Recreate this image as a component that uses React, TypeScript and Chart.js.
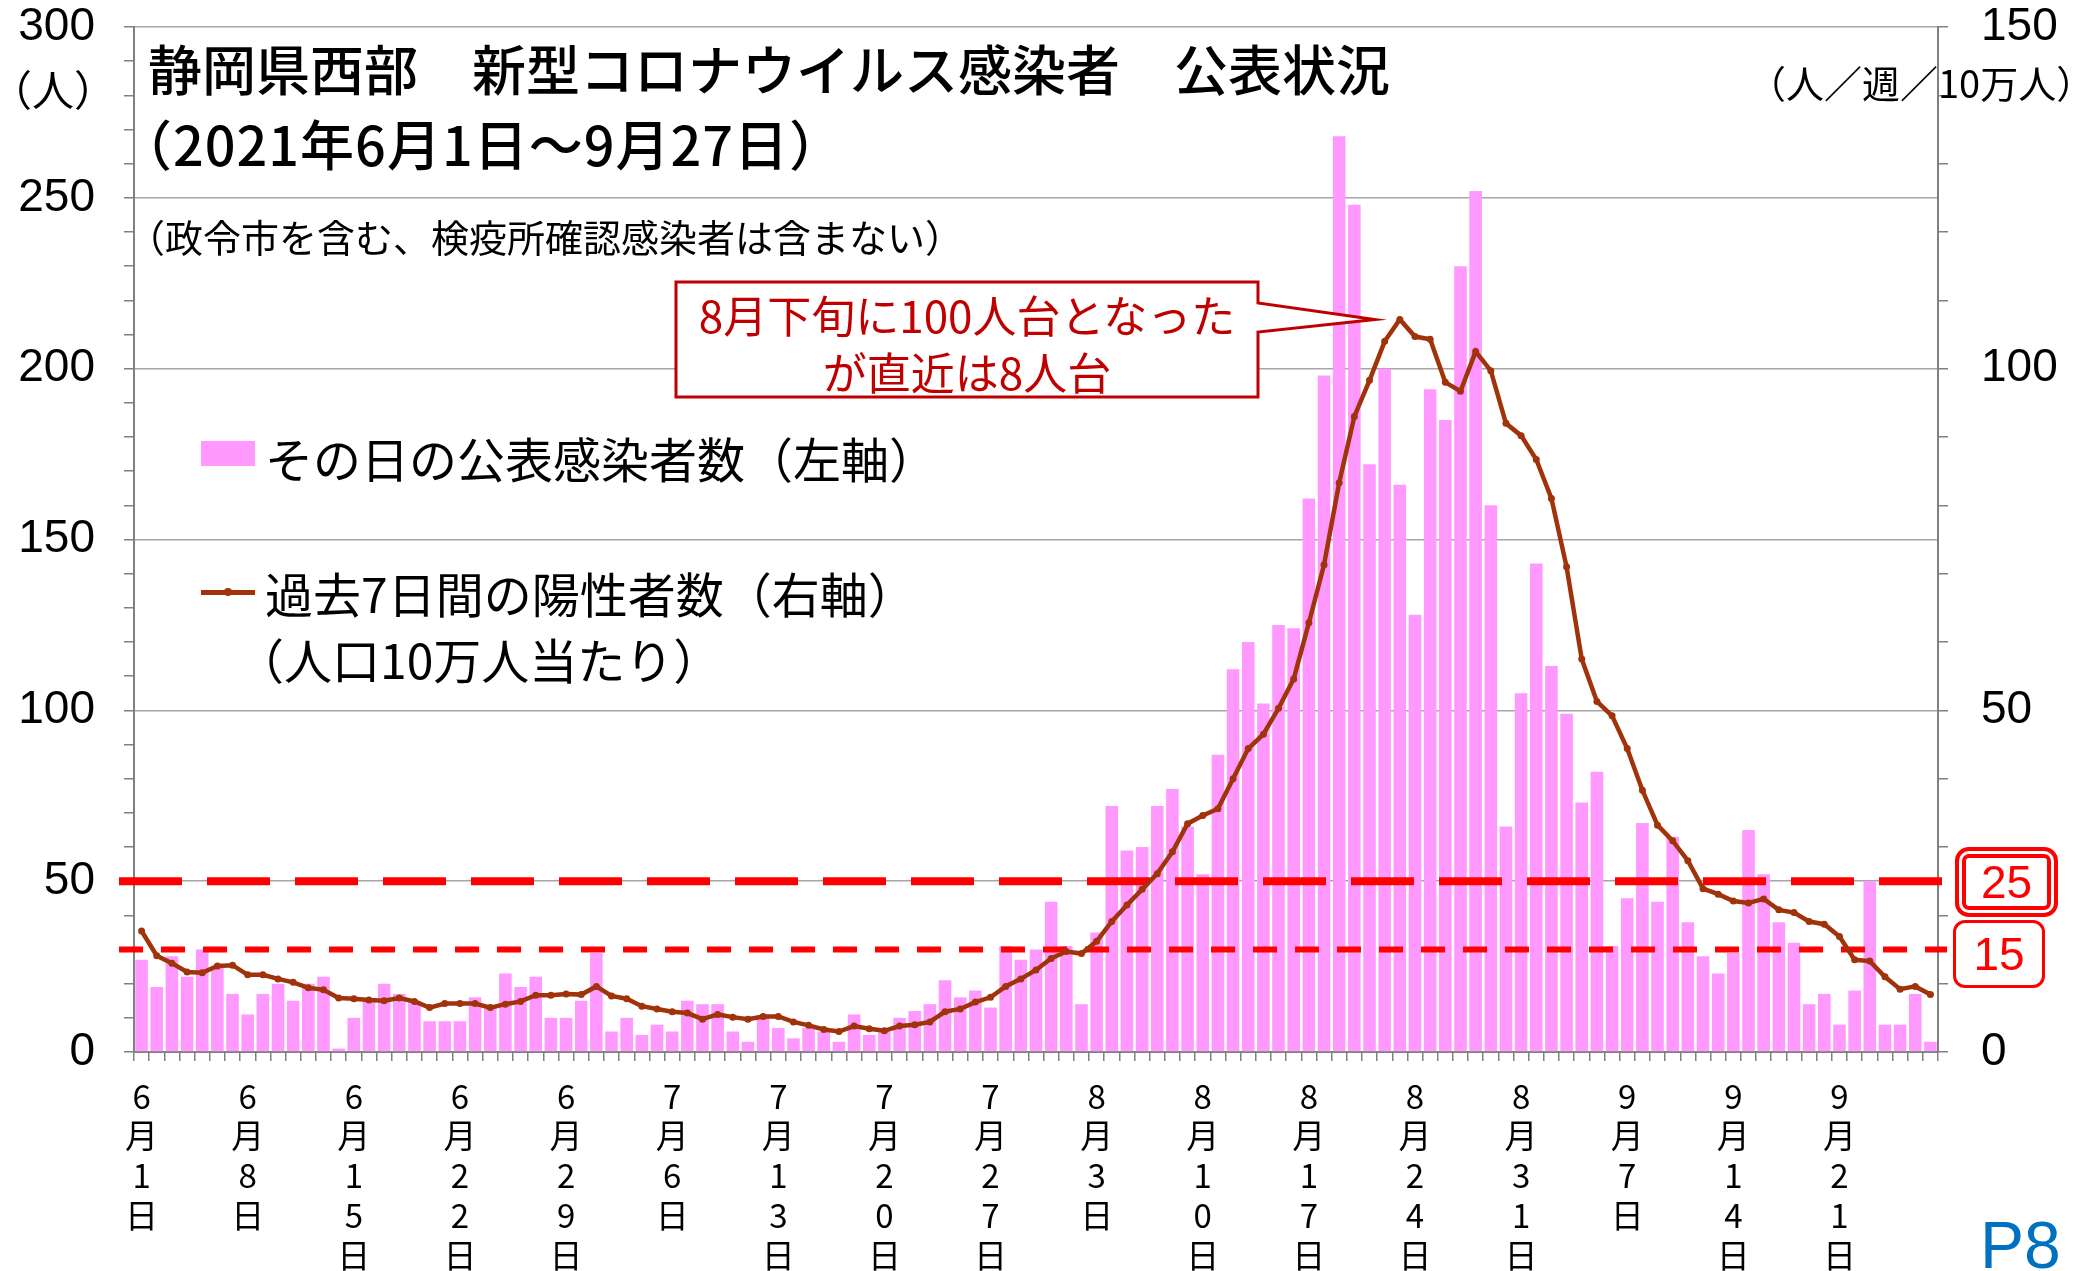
import React, { useEffect, useRef } from 'react';
import { Chart, registerables } from 'chart.js';

Chart.register(...registerables);

// ---------- data ----------
const months = ['6', '7', '8', '9'];
const monthLengths = [30, 31, 31, 27];
const categories: string[] = [];
months.forEach((m, mi) => {
  for (let d = 1; d <= monthLengths[mi]; d++) categories.push(`${m}月${d}日`);
});

const tickLabels = [
  '6月1日', '6月8日', '6月15日', '6月22日', '6月29日',
  '7月6日', '7月13日', '7月20日', '7月27日',
  '8月3日', '8月10日', '8月17日', '8月24日', '8月31日',
  '9月7日', '9月14日', '9月21日',
];

const dailyJune = [27, 19, 28, 22, 30, 25, 17, 11, 17, 20, 15, 20, 22, 1, 10, 15, 20, 17, 15, 9, 9, 9, 16, 13, 23, 19, 22, 10, 10, 15];
const dailyJuly = [29, 6, 10, 5, 8, 6, 15, 14, 14, 6, 3, 10, 7, 4, 7, 6, 3, 11, 5, 6, 10, 12, 14, 21, 16, 18, 13, 31, 27, 30, 44];
const dailyAug = [31, 14, 35, 72, 59, 60, 72, 77, 66, 52, 87, 112, 120, 102, 125, 124, 162, 198, 268, 248, 172, 200, 166, 128, 194, 185, 230, 252, 160, 66, 105];
const dailySep = [143, 113, 99, 73, 82, 31, 45, 67, 44, 63, 38, 28, 23, 29, 65, 52, 38, 32, 14, 17, 8, 18, 50, 8, 8, 17, 3];

const weeklyJune = [17.7, 14.1, 13.0, 11.7, 11.6, 12.6, 12.7, 11.3, 11.3, 10.7, 10.2, 9.4, 9.1, 7.9, 7.8, 7.6, 7.5, 7.9, 7.4, 6.5, 7.1, 7.1, 7.1, 6.5, 7.0, 7.4, 8.3, 8.3, 8.5, 8.4];
const weeklyJuly = [9.6, 8.2, 7.8, 6.7, 6.3, 5.9, 5.7, 4.8, 5.5, 5.1, 4.8, 5.2, 5.2, 4.4, 3.9, 3.3, 3.0, 3.8, 3.4, 3.1, 3.8, 4.0, 4.4, 5.9, 6.3, 7.3, 8.0, 9.6, 10.7, 12.0, 13.7];
const weeklyAug = [14.7, 14.4, 16.2, 19.1, 21.5, 23.8, 26.1, 29.3, 33.4, 34.6, 35.6, 40.0, 44.4, 46.5, 50.3, 54.6, 62.8, 71.3, 83.3, 93.0, 98.3, 104.0, 107.2, 104.7, 104.3, 98.0, 96.7, 102.5, 99.7, 92.0, 90.2];
const weeklySep = [86.7, 81.0, 71.0, 57.5, 51.3, 49.2, 44.4, 38.3, 33.2, 30.9, 28.0, 23.9, 23.1, 22.1, 21.8, 22.4, 20.8, 20.4, 19.1, 18.7, 16.9, 13.5, 13.3, 11.0, 9.2, 9.6, 8.4];

const dailyCases = [...dailyJune, ...dailyJuly, ...dailyAug, ...dailySep];
const weeklyPer100k = [...weeklyJune, ...weeklyJuly, ...weeklyAug, ...weeklySep];

const thresholdHigh = 25;
const thresholdLow = 15;

// ---------- styles ----------
const JP = "'Noto Sans CJK JP', 'Noto Sans', sans-serif";
const LAT = "'Liberation Sans', Arial, sans-serif";
const BAR_COLOR = '#FF99FF';
const LINE_COLOR = '#A0330A';
const NOTE_RED = '#C00000';

const W = 2075;
const H = 1271;

const App = () => {
  const ref = useRef<HTMLCanvasElement>(null);

  useEffect(() => {
    const canvas = ref.current;
    if (!canvas) return;

    const refLines = {
      id: 'refLines',
      afterDatasetDraw(chart: any, args: any) {
        if (args.index !== 0) return;
        const { ctx, chartArea, scales } = chart;
        const y2 = scales.y2;
        const x0 = chartArea.left - 15;
        const x1 = chartArea.right + 9;
        ctx.save();
        ctx.strokeStyle = '#FF0000';
        ctx.lineCap = 'butt';
        ctx.lineWidth = 8;
        ctx.setLineDash([63, 25]);
        let y = y2.getPixelForValue(thresholdHigh);
        ctx.beginPath();
        ctx.moveTo(x0, y);
        ctx.lineTo(x1, y);
        ctx.stroke();
        ctx.lineWidth = 6;
        ctx.setLineDash([24, 18]);
        y = y2.getPixelForValue(thresholdLow);
        ctx.beginPath();
        ctx.moveTo(x0, y);
        ctx.lineTo(x1, y);
        ctx.stroke();
        ctx.restore();
      },
    };

    const callout = {
      id: 'callout',
      afterDraw(chart: any) {
        const { ctx } = chart;
        let peak = 0;
        weeklyPer100k.forEach((v, i) => {
          if (v > weeklyPer100k[peak]) peak = i;
        });
        const pt = chart.getDatasetMeta(1).data[peak];
        const tipX = pt.x - 25;
        const tipY = pt.y;
        const L = 676, T = 282, R = 1258, B = 397;
        ctx.save();
        ctx.beginPath();
        ctx.moveTo(L, T);
        ctx.lineTo(R, T);
        ctx.lineTo(R, 303);
        ctx.lineTo(tipX, tipY);
        ctx.lineTo(R, 332);
        ctx.lineTo(R, B);
        ctx.lineTo(L, B);
        ctx.closePath();
        ctx.fillStyle = '#FFFFFF';
        ctx.fill();
        ctx.lineWidth = 3;
        ctx.strokeStyle = NOTE_RED;
        ctx.lineJoin = 'miter';
        ctx.stroke();
        ctx.restore();
      },
    };

    const chart = new Chart(canvas, {
      type: 'bar',
      data: {
        labels: categories,
        datasets: [
          {
            type: 'bar',
            label: 'その日の公表感染者数（左軸）',
            data: dailyCases,
            backgroundColor: BAR_COLOR,
            borderWidth: 0,
            barPercentage: 0.83,
            categoryPercentage: 1.0,
            yAxisID: 'y',
            order: 2,
          },
          {
            type: 'line',
            label: '過去7日間の陽性者数（右軸）',
            data: weeklyPer100k,
            borderColor: LINE_COLOR,
            backgroundColor: LINE_COLOR,
            borderWidth: 4.5,
            pointRadius: 3.5,
            pointBorderWidth: 0,
            pointBackgroundColor: LINE_COLOR,
            tension: 0,
            yAxisID: 'y2',
            order: 1,
          },
        ],
      },
      options: {
        responsive: false,
        animation: false,
        devicePixelRatio: 1,
        layout: { padding: { top: 27, left: 0, right: 0, bottom: 0 } },
        plugins: {
          legend: { display: false },
          tooltip: { enabled: false },
        },
        scales: {
          x: {
            type: 'category',
            offset: true,
            grid: {
              display: true,
              drawOnChartArea: false,
              offset: true,
              color: '#808080',
              lineWidth: 1.5,
              tickLength: 9,
            },
            border: { display: true, color: '#808080', width: 2 },
            ticks: {
              autoSkip: false,
              maxRotation: 0,
              minRotation: 0,
              padding: 15,
              color: '#000000',
              font: { family: JP, size: 33, lineHeight: 1.21 },
              callback: (_v: any, index: number) => {
                const c = categories[index];
                return tickLabels.includes(c) ? Array.from(c) : '';
              },
            },
            afterFit: (s: any) => {
              s.height = 219;
              s.paddingLeft = 0;
              s.paddingRight = 0;
            },
          },
          y: {
            position: 'left',
            min: 0,
            max: 300,
            ticks: {
              stepSize: 10,
              autoSkip: false,
              padding: 29,
              color: '#000000',
              font: { family: LAT, size: 46 },
              callback: (v: any) => (Number(v) % 50 === 0 ? String(v) : ''),
            },
            grid: {
              color: (ctx: any) => (ctx.tick && ctx.tick.value % 50 === 0 ? '#A6A6A6' : 'rgba(0,0,0,0)'),
              tickColor: '#808080',
              tickLength: 10,
              lineWidth: 1.5,
            },
            border: { display: true, color: '#808080', width: 2 },
            afterFit: (s: any) => {
              s.width = 134;
              s.paddingTop = 0;
              s.paddingBottom = 0;
            },
          },
          y2: {
            position: 'right',
            min: 0,
            max: 150,
            ticks: {
              stepSize: 10,
              autoSkip: false,
              padding: 33,
              color: '#000000',
              font: { family: LAT, size: 46 },
              callback: (v: any) => (Number(v) % 50 === 0 ? String(v) : ''),
            },
            grid: {
              drawOnChartArea: false,
              color: '#808080',
              tickLength: 10,
              lineWidth: 1.5,
            },
            border: { display: true, color: '#808080', width: 2 },
            afterFit: (s: any) => {
              s.width = 137;
              s.paddingTop = 0;
              s.paddingBottom = 0;
            },
          },
        },
      },
      plugins: [refLines, callout],
    } as any);

    return () => chart.destroy();
  }, []);

  const abs = (o: any): React.CSSProperties => ({
    position: 'absolute',
    whiteSpace: 'nowrap',
    lineHeight: 1,
    margin: 0,
    ...o,
  });

  return (
    <div style={{ position: 'absolute', left: 0, top: 0, width: W, height: H, overflow: 'hidden', background: '#FFFFFF' }}>
      <canvas ref={ref} width={W} height={H} style={{ position: 'absolute', left: 0, top: 0, width: W, height: H }} />

      {/* title */}
      <div style={abs({ left: 148, top: 41, fontSize: 54, fontFamily: JP, fontWeight: 500, color: '#000' })}>
        静岡県西部　新型コロナウイルス感染者　公表状況
      </div>
      <div style={abs({ left: 118, top: 116, fontSize: 54, fontFamily: JP, fontWeight: 500, color: '#000', letterSpacing: 1 })}>
        （2021年6月1日～9月27日）
      </div>
      <div style={abs({ left: 127, top: 217, fontSize: 38, fontFamily: JP, color: '#000' })}>
        （政令市を含む、検疫所確認感染者は含まない）
      </div>

      {/* axis units */}
      <div style={abs({ left: -10, top: 67, fontSize: 42, fontFamily: JP, color: '#000' })}>（人）</div>
      <div style={abs({ left: 1748, top: 63, fontSize: 38, fontFamily: JP, color: '#000' })}>（人／週／10万人）</div>

      {/* legend */}
      <div style={abs({ left: 201, top: 441, width: 54, height: 25, background: BAR_COLOR })} />
      <div style={abs({ left: 265, top: 433, fontSize: 48, fontFamily: JP, color: '#000' })}>
        その日の公表感染者数（左軸）
      </div>
      <div style={abs({ left: 201, top: 590, width: 54, height: 4.5, background: LINE_COLOR })} />
      <div style={abs({ left: 224, top: 588, width: 8, height: 8, borderRadius: 4, background: LINE_COLOR })} />
      <div style={abs({ left: 265, top: 568, fontSize: 48, fontFamily: JP, color: '#000' })}>
        過去7日間の陽性者数（右軸）
      </div>
      <div style={abs({ left: 236, top: 634, fontSize: 48, fontFamily: JP, color: '#000' })}>
        （人口10万人当たり）
      </div>

      {/* annotation text */}
      <div style={abs({ left: 676, top: 292, width: 582, textAlign: 'center', fontSize: 44, fontFamily: JP, color: NOTE_RED })}>
        8月下旬に100人台となった
      </div>
      <div style={abs({ left: 676, top: 349, width: 582, textAlign: 'center', fontSize: 44, fontFamily: JP, color: NOTE_RED })}>
        が直近は8人台
      </div>

      {/* threshold boxes */}
      <div
        style={abs({
          left: 1955, top: 847, width: 103, height: 70, boxSizing: 'border-box',
          border: '11px double #FF0000', borderRadius: 14,
          display: 'flex', alignItems: 'center', justifyContent: 'center',
          fontSize: 46, fontFamily: LAT, color: '#FF0000',
        })}
      >
        25
      </div>
      <div
        style={abs({
          left: 1953, top: 920, width: 92, height: 68, boxSizing: 'border-box',
          border: '3.5px solid #FF0000', borderRadius: 12,
          display: 'flex', alignItems: 'center', justifyContent: 'center',
          fontSize: 46, fontFamily: LAT, color: '#FF0000',
        })}
      >
        15
      </div>

      {/* page number */}
      <div style={abs({ left: 1980, top: 1212, fontSize: 66, fontFamily: LAT, color: '#0070C0' })}>P8</div>
    </div>
  );
};

export default App;
